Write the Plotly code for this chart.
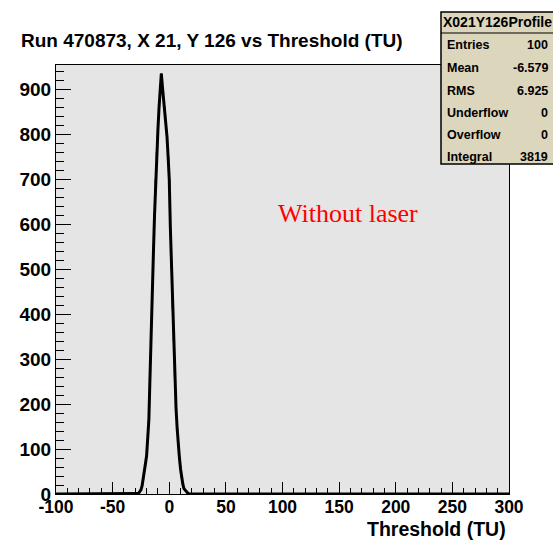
import plotly.graph_objects as go

# ---- data ----
threshold = [-100, -30, -29, -28, -27, -26, -25, -24, -23, -22, -21, -20, -19, -18, -17,
             -16, -15, -14, -13, -12, -11, -10, -9, -8, -7, -6, -5, -4, -3, -2, -1,
             0, 1, 2, 3, 4, 5, 6, 7, 8, 9, 10, 11, 12, 13, 14, 15, 16, 17, 18, 300]
counts = [0, 0, 0, 1, 2, 5, 9, 18, 32, 50, 68, 85, 115, 165, 260,
          370, 455, 535, 620, 700, 760, 810, 860, 900, 935, 905, 880, 860, 830, 795, 750,
          700, 590, 500, 410, 340, 260, 190, 145, 105, 80, 55, 35, 22, 12, 8, 6, 3, 1, 0, 0]

x_ticks = [-100, -50, 0, 50, 100, 150, 200, 250, 300]
x_tick_labels = ["-100", "-50", "0", "50", "100", "150", "200", "250", "300"]
y_ticks = [0, 100, 200, 300, 400, 500, 600, 700, 800, 900]

stats_title = "X021Y126Profile"
stats_names = ["Entries", "Mean", "RMS", "Underflow", "Overflow", "Integral"]
stats_values = ["100", "-6.579", "6.925", "0", "0", "3819"]

title_text = "Run 470873, X 21, Y 126 vs Threshold (TU)"
xtitle_text = "Threshold (TU)"
label_text = "Without laser"

# ---- geometry ----
W, H = 553, 540
L, R, T, B = 56, 509, 65, 494


def px(x):
    return (x - L) / (R - L)


def py(y):
    return (B - y) / (B - T)


fig = go.Figure()
fig.add_trace(go.Scatter(x=threshold, y=counts, mode="lines", line_shape="hvh",
                         line=dict(color="#333333", width=1), hoverinfo="skip",
                         showlegend=False))
fig.add_trace(go.Scatter(x=threshold, y=counts, mode="lines",
                         line=dict(color="black", width=3), showlegend=False,
                         cliponaxis=False))

bold = dict(family="Liberation Sans, Arial, sans-serif", color="black", weight="bold")

fig.update_layout(
    width=W, height=H,
    margin=dict(l=L, r=W - R, t=T, b=H - B, pad=0),
    paper_bgcolor="white", plot_bgcolor="#e5e5e5",
    showlegend=False,
    xaxis=dict(range=[-100, 300], tickvals=x_ticks, ticktext=x_tick_labels,
               ticks="inside", ticklen=12, tickcolor="black", tickwidth=1,
               ticklabelstandoff=-3,
               minor=dict(dtick=10, ticklen=6, ticks="inside", tickcolor="black"),
               showgrid=False, zeroline=False, showline=True, linecolor="black",
               linewidth=1, mirror=True, tickfont=dict(size=17.5, **bold)),
    yaxis=dict(range=[0, (B - T) / 0.4497], tickvals=y_ticks, ticks="inside", ticklen=15,
               tickcolor="black", tickwidth=1,
               minor=dict(dtick=20, ticklen=8, ticks="inside", tickcolor="black"),
               showgrid=False, zeroline=False, showline=True, linecolor="black",
               linewidth=1, mirror=True, tickfont=dict(size=19, **bold)),
)

ann = []
ann.append(dict(text=title_text, xref="paper", yref="paper", x=px(19), y=py(41),
                xanchor="left", yanchor="middle", showarrow=False,
                font=dict(size=19, **bold)))
ann.append(dict(text=xtitle_text, xref="paper", yref="paper", x=px(508), y=py(529),
                xanchor="right", yanchor="middle", showarrow=False,
                font=dict(size=19.5, **bold)))
ann.append(dict(text=label_text, xref="paper", yref="paper", x=px(348), y=py(213),
                xanchor="center", yanchor="middle", showarrow=False,
                font=dict(size=26, family="Liberation Serif, Times New Roman, serif",
                          color="red")))

# stats box
bx0, bx1, by0, by1 = 441, 560, 12, 164
hdr = 33
shapes = [
    dict(type="rect", xref="paper", yref="paper", x0=px(bx0), x1=px(bx1), y0=py(by1),
         y1=py(by0), fillcolor="#dcd6bd", line=dict(color="black", width=1.5),
         layer="above"),
    dict(type="line", xref="paper", yref="paper", x0=px(bx0), x1=px(bx1), y0=py(hdr),
         y1=py(hdr), line=dict(color="black", width=1), layer="above"),
]
ann.append(dict(text=stats_title, xref="paper", yref="paper", x=px(497), y=py(22.5),
                xanchor="center", yanchor="middle", showarrow=False,
                font=dict(size=14, **bold)))
row_y = [45, 68, 91, 113, 135, 157]
for name, val, yy in zip(stats_names, stats_values, row_y):
    ann.append(dict(text=name, xref="paper", yref="paper", x=px(445), y=py(yy),
                    xanchor="left", yanchor="middle", showarrow=False,
                    font=dict(size=12.5, **bold)))
    ann.append(dict(text=val, xref="paper", yref="paper", x=px(550), y=py(yy),
                    xanchor="right", yanchor="middle", showarrow=False,
                    font=dict(size=12.5, **bold)))

fig.update_layout(annotations=ann, shapes=shapes)
fig.write_html("out.html")
